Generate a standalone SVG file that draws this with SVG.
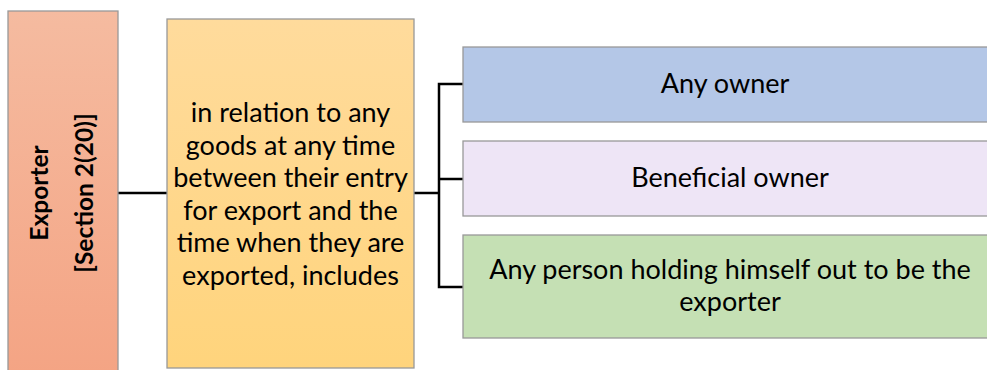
<svg xmlns="http://www.w3.org/2000/svg" width="987" height="370" viewBox="0 0 987 370">
<defs>
<linearGradient id="gL" x1="0" y1="0" x2="0" y2="1"><stop offset="0" stop-color="#F5BBA0"/><stop offset="1" stop-color="#F4A484"/></linearGradient>
<linearGradient id="gM" x1="0" y1="0" x2="0" y2="1"><stop offset="0" stop-color="#FFDB9C"/><stop offset="1" stop-color="#FFD47C"/></linearGradient>
<style>
.box{stroke:#999;stroke-width:1.3}
.t{font-family:Lato,"Open Sans",sans-serif;font-size:27px;fill:#000;text-anchor:middle}
.b{font-weight:bold;font-size:24.5px}
.c{fill:none;stroke:#000;stroke-width:2.5}
</style>
</defs>
<g id="connectors">
<line class="c" x1="118" y1="193" x2="167" y2="193"/>
<line class="c" x1="414" y1="193" x2="439" y2="193"/>
<path class="c" d="M463 84H439V287H463M439 179H463"/>
</g>
<g id="exporter">
<rect class="box" x="8" y="11" width="110" height="362" fill="url(#gL)"/>
<text class="t b" transform="translate(48,193) rotate(-90)">Exporter</text>
<text class="t b" transform="translate(93,193) rotate(-90)">[Section 2(20)]</text>
</g>
<g id="definition">
<rect class="box" x="167" y="19" width="247" height="349" fill="url(#gM)"/>
<text class="t" x="290.5" y="122">in relation to any</text>
<text class="t" x="290.5" y="154.5">goods at any time</text>
<text class="t" x="290.5" y="187">between their entry</text>
<text class="t" x="290.5" y="219.5">for export and the</text>
<text class="t" x="290.5" y="252">time when they are</text>
<text class="t" x="290.5" y="284.5">exported, includes</text>
</g>
<g id="any-owner">
<rect class="box" x="463" y="47" width="530" height="75" fill="#B4C7E7"/>
<text class="t" x="725" y="93">Any owner</text>
</g>
<g id="beneficial-owner">
<rect class="box" x="463" y="141" width="530" height="75" fill="#EEE5F6"/>
<text class="t" x="730" y="187">Beneficial owner</text>
</g>
<g id="any-person">
<rect class="box" x="463" y="235" width="530" height="103" fill="#C5E0B4"/>
<text class="t" x="730" y="279">Any person holding himself out to be the</text>
<text class="t" x="730" y="311">exporter</text>
</g>
</svg>
